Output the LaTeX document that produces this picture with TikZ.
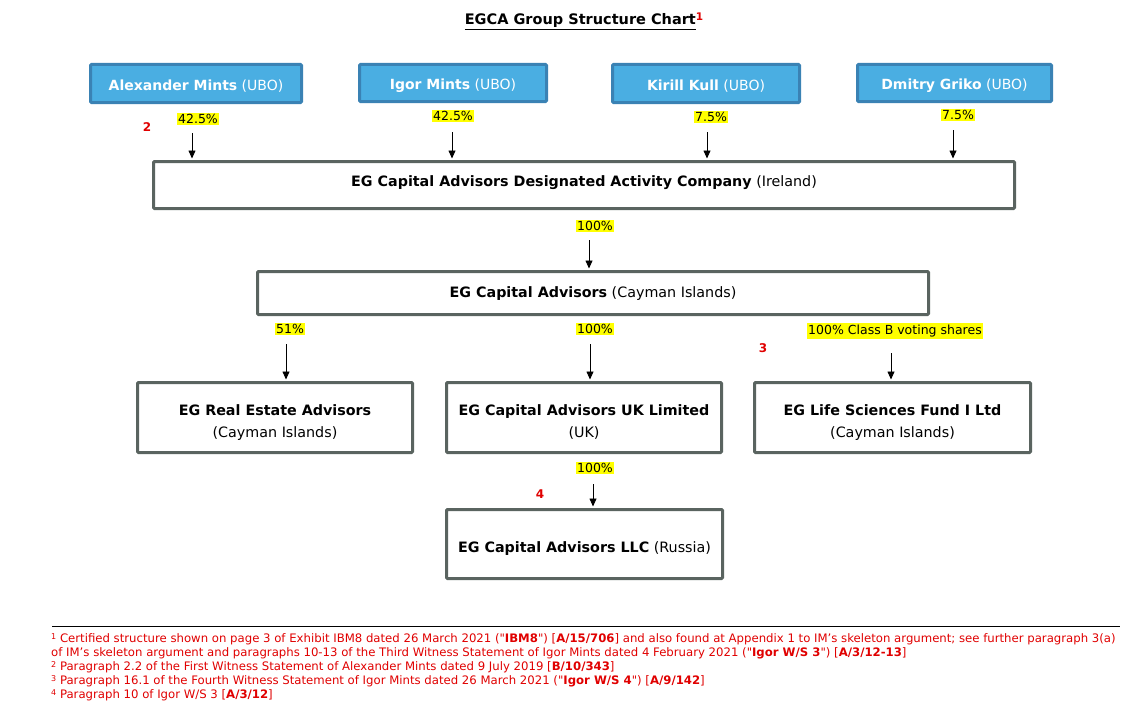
\documentclass[tikz,border=0pt]{standalone}
\usepackage{fontspec}
\setmainfont{DejaVu Sans}[Ligatures=TeXOff]
\usetikzlibrary{arrows.meta}
\definecolor{ubofill}{RGB}{74,174,226}
\definecolor{uboedge}{RGB}{58,130,180}
\definecolor{boxedge}{RGB}{90,100,96}
\definecolor{fnred}{RGB}{224,0,0}
\definecolor{hl}{RGB}{255,255,0}
\newcommand\mystrut[2]{\rule[-#2pt]{0pt}{\dimexpr #1pt + #2pt\relax}}
\begin{document}
\begin{tikzpicture}[x=1pt,y=-1pt,
  ubo/.style={draw=uboedge, fill=ubofill, line width=3pt, rounded corners=1pt, text=white, inner sep=0pt, font=\fontsize{14}{16}\selectfont},
  ent/.style={draw=boxedge, fill=white, line width=3pt, rounded corners=1pt, align=center, inner sep=0pt, font=\fontsize{14.3}{22}\selectfont},
  pct/.style={fill=hl, inner xsep=1pt, inner ysep=1.5pt, font=\fontsize{12.5}{14}\selectfont},
  fnmark/.style={text=fnred, font=\bfseries\fontsize{12}{13}\selectfont},
  arr/.style={-{Triangle[width=7pt,length=8pt]}, line width=0.8pt, shorten >=1.5pt}]
\useasboundingbox (0,0) rectangle (1145,709);
% title
\node[font=\bfseries\fontsize{14.5}{16}\selectfont] (title) at (584,21) {\underline{EGCA Group Structure Chart}\raisebox{0.55ex}{\textcolor{fnred}{\fontsize{10.5}{10}\selectfont 1}}};
% UBO boxes
\node[ubo, minimum width=211pt, minimum height=38pt] (u1) at (196,83.5) {\mystrut{17.2}{4}\textbf{Alexander Mints} (UBO)};
\node[ubo, minimum width=187pt, minimum height=37pt] (u2) at (453,83) {\mystrut{17.2}{4}\textbf{Igor Mints} (UBO)};
\node[ubo, minimum width=187pt, minimum height=38pt] (u3) at (706,83.5) {\mystrut{17.2}{4}\textbf{Kirill Kull} (UBO)};
\node[ubo, minimum width=194pt, minimum height=37pt] (u4) at (954.5,83) {\mystrut{17.2}{4}\textbf{Dmitry Griko} (UBO)};
% entity boxes
\node[ent, minimum width=861pt, minimum height=47pt] (dac) at (584,185) {\mystrut{14.4}{12}\textbf{EG Capital Advisors Designated Activity Company} (Ireland)};
\node[ent, minimum width=671pt, minimum height=43pt] (eca) at (593,293) {\mystrut{16.4}{8}\textbf{EG Capital Advisors} (Cayman Islands)};
\node[ent, minimum width=275pt, minimum height=70pt] (rea) at (275,417.5) {\mystrut{21.4}{0}\textbf{EG Real Estate Advisors}\\\mystrut{4}{4}(Cayman Islands)};
\node[ent, minimum width=275pt, minimum height=70pt] (uk) at (584,417.5) {\mystrut{21.4}{0}\textbf{EG Capital Advisors UK Limited}\\\mystrut{4}{4}(UK)};
\node[ent, minimum width=276pt, minimum height=70pt] (ls) at (892.5,417.5) {\mystrut{21.4}{0}\textbf{EG Life Sciences Fund I Ltd}\\\mystrut{4}{4}(Cayman Islands)};
\node[ent, minimum width=276pt, minimum height=69pt] (llc) at (584.5,544) {\mystrut{20.4}{4}\textbf{EG Capital Advisors LLC} (Russia)};
% percentage labels
\node[pct] (p1) at (198,119) {42.5\%};
\node[pct] (p2) at (453,116) {42.5\%};
\node[pct] (p3) at (711,117) {7.5\%};
\node[pct] (p4) at (958,115) {7.5\%};
\node[pct] (p5) at (595,226) {100\%};
\node[pct] (p6) at (290,329) {51\%};
\node[pct] (p7) at (595,329) {100\%};
\node[pct] (p8) at (895,331) {100\% Class B voting shares};
\node[pct] (p9) at (595,468) {100\%};
% footnote marks
\node[fnmark] (m2) at (147,127) {2};
\node[fnmark] (m3) at (763,348) {3};
\node[fnmark] (m4) at (540,494) {4};
% arrow starts
\coordinate (a1) at (192,133);
\coordinate (a2) at (452,132);
\coordinate (a3) at (707,132);
\coordinate (a4) at (953,130);
\coordinate (a5) at (589,240);
\coordinate (a6) at (286,344);
\coordinate (a7) at (590,344);
\coordinate (a8) at (891,353);
\coordinate (a9) at (593,484);
\draw[arr] (a1) -- (a1 |- dac.north);
\draw[arr] (a2) -- (a2 |- dac.north);
\draw[arr] (a3) -- (a3 |- dac.north);
\draw[arr] (a4) -- (a4 |- dac.north);
\draw[arr] (a5) -- (a5 |- eca.north);
\draw[arr] (a6) -- (a6 |- rea.north);
\draw[arr] (a7) -- (a7 |- uk.north);
\draw[arr] (a8) -- (a8 |- ls.north);
\draw[arr] (a9) -- (a9 |- llc.north);
% footnotes
\coordinate (r1) at (52,626);
\coordinate (r2) at (1120,626);
\draw[line width=0.8pt] (r1) -- (r2);
\node[anchor=north west, inner sep=0pt, align=left, text=fnred, font=\fontsize{11.7}{14}\selectfont] (fn) at (51,633) {%
\raisebox{0.4ex}{\fontsize{8}{8}\selectfont 1} Certified structure shown on page 3 of Exhibit IBM8 dated 26 March 2021 ("\textbf{IBM8}") [\textbf{A/15/706}] and also found at Appendix 1 to IM’s skeleton argument; see further paragraph 3(a)\\
of IM’s skeleton argument and paragraphs 10-13 of the Third Witness Statement of Igor Mints dated 4 February 2021 ("\textbf{Igor W/S 3}") [\textbf{A/3/12-13}]\\
\raisebox{0.4ex}{\fontsize{8}{8}\selectfont 2} Paragraph 2.2 of the First Witness Statement of Alexander Mints dated 9 July 2019 [\textbf{B/10/343}]\\
\raisebox{0.4ex}{\fontsize{8}{8}\selectfont 3} Paragraph 16.1 of the Fourth Witness Statement of Igor Mints dated 26 March 2021 ("\textbf{Igor W/S 4}") [\textbf{A/9/142}]\\
\raisebox{0.4ex}{\fontsize{8}{8}\selectfont 4} Paragraph 10 of Igor W/S 3 [\textbf{A/3/12}]};
\end{tikzpicture}
\end{document}
